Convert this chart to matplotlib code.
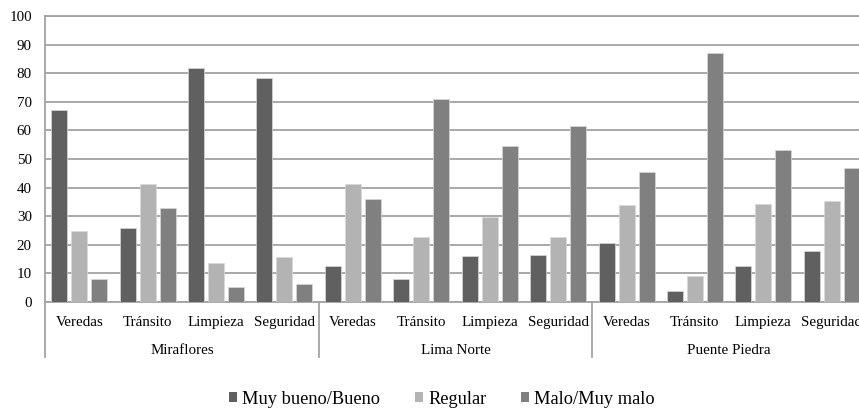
import matplotlib
matplotlib.use("Agg")
import matplotlib.pyplot as plt
import matplotlib.transforms as mtransforms
from matplotlib.patches import Patch
import numpy as np

plt.rcParams['font.family'] = ['Liberation Serif', 'DejaVu Serif']

districts = ["Miraflores", "Lima Norte", "Puente Piedra"]
aspects = ["Veredas", "Tránsito", "Limpieza", "Seguridad"]
series_names = ["Muy bueno/Bueno", "Regular", "Malo/Muy malo"]

muy_bueno_bueno = [67.1, 25.9, 81.7, 78.3,
                   12.7, 8.0, 16.0, 16.4,
                   20.7, 3.8, 12.7, 17.8]
regular = [24.9, 41.4, 13.7, 15.6,
           41.4, 22.6, 29.6, 22.6,
           33.8, 9.0, 34.3, 35.2]
malo_muy_malo = [8.0, 32.9, 5.2, 6.2,
                 36.1, 70.9, 54.4, 61.4,
                 45.6, 87.0, 53.0, 47.0]

y_ticks = [0, 10, 20, 30, 40, 50, 60, 70, 80, 90, 100]

colors = ["#606060", "#b3b3b3", "#808080"]
grid_color = "#a3a3a3"

fig = plt.figure(figsize=(8.59, 4.08), dpi=100)
ax = fig.add_axes([45 / 859, 1 - 302 / 408, 821 / 859, 286 / 408])

n = len(aspects) * len(districts)
x = np.arange(n)
pitch = 0.292
width = 0.234
for i, (vals, col, name) in enumerate(zip([muy_bueno_bueno, regular, malo_muy_malo],
                                          colors, series_names)):
    ax.bar(x + (i - 1) * pitch, vals, width=width, color=col,
           edgecolor="#d8d8d8", linewidth=0.5, label=name, zorder=3)

ax.set_xlim(-0.5, n - 0.5)
ax.set_ylim(0, 100)
ax.set_yticks(y_ticks)
ax.tick_params(axis="y", length=0, pad=9.5, labelsize=10.8)
ax.set_xticks([])
ax.yaxis.grid(True, color=grid_color, linewidth=1.3, zorder=0)
ax.set_axisbelow(True)

ax.spines["right"].set_visible(False)
for side in ["top", "left", "bottom"]:
    ax.spines[side].set_color(grid_color)
    ax.spines[side].set_linewidth(1.3)

trans = mtransforms.blended_transform_factory(ax.transData, ax.transAxes)

# Category labels under each bar group
for k in range(n):
    ax.text(x[k], -0.072, aspects[k % len(aspects)], transform=trans,
            ha="center", va="center", fontsize=10.8)

# District labels and separators
ng = len(aspects)
for g, d in enumerate(districts):
    center = g * ng + (ng - 1) / 2
    ax.text(center, -0.168, d, transform=trans, ha="center", va="center",
            fontsize=10.8)
for b in range(len(districts) + 1):
    xb = b * ng - 0.5
    ax.plot([xb, xb], [0, -0.192], transform=trans, color=grid_color,
            linewidth=1.3, clip_on=False)

handles = [Patch(facecolor=c, edgecolor="none") for c in colors]
fig.legend(handles, series_names, loc="center", bbox_to_anchor=(442 / 859, 1 - 399 / 408),
           ncol=3, frameon=False, fontsize=13.2, handlelength=0.45, handleheight=0.45,
           handletextpad=0.27, columnspacing=1.9, borderpad=0)

fig.savefig("out.png", dpi=100)
